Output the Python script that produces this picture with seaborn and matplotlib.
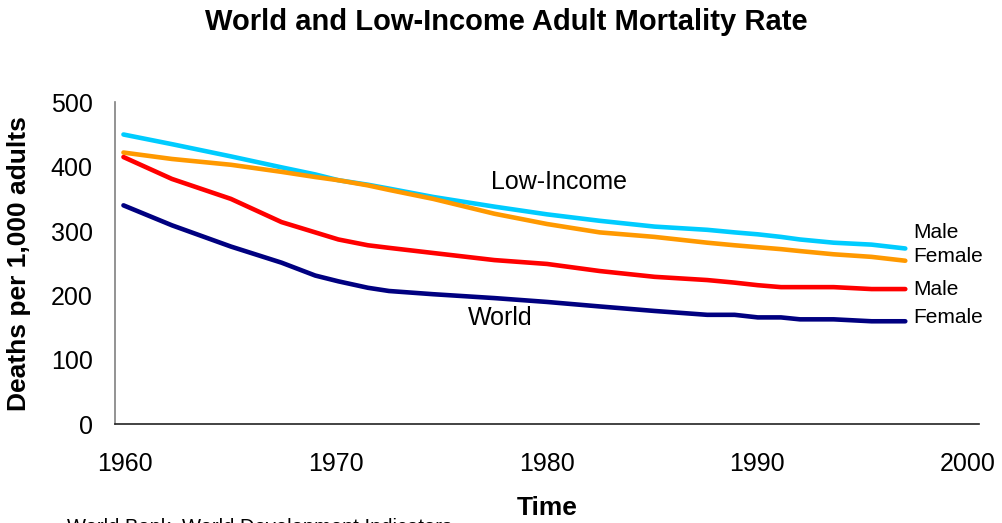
import numpy as np
import pandas as pd
import matplotlib
matplotlib.use("Agg")
import matplotlib.pyplot as plt
import matplotlib.transforms as mtransforms
import seaborn as sns

# Observation years (uneven spacing of the underlying series)
years = [1960.4, 1962.7, 1965.5, 1967.9, 1969.5, 1970.6, 1972.0, 1973.0, 1975.1,
         1978.0, 1980.5, 1983.0, 1985.6, 1988.1, 1989.4, 1990.5, 1991.6, 1992.5,
         1994.1, 1995.9, 1997.5]

# Adult mortality, deaths per 1,000 adults
low_income_male = [450, 435, 416, 399, 388, 379, 372, 366, 353, 338, 326, 316, 307,
                   302, 298, 295, 291, 287, 282, 279, 273]
low_income_female = [422, 412, 403, 392, 384, 379, 371, 364, 350, 327, 311, 298, 291,
                     282, 278, 275, 272, 269, 264, 260, 254]
world_male = [415, 381, 350, 314, 298, 287, 278, 274, 266, 255, 249, 238, 229,
              224, 220, 216, 213, 213, 213, 210, 210]
world_female = [340, 309, 276, 251, 231, 222, 212, 207, 202, 196, 190, 183, 176,
                170, 170, 166, 166, 163, 163, 160, 160]

series_names = ["Low-Income Male", "Low-Income Female", "World Male", "World Female"]
series_values = [low_income_male, low_income_female, world_male, world_female]
series_colors = ["#00CCFF", "#FF9900", "#FF0000", "#000080"]
end_labels = ["Male", "Female", "Male", "Female"]

x_ticks = [1960, 1970, 1980, 1990, 2000]
y_ticks = [0, 100, 200, 300, 400, 500]

df = pd.concat(
    [pd.DataFrame({"Year": years, "Rate": vals, "Series": name})
     for name, vals in zip(series_names, series_values)],
    ignore_index=True,
)

sns.set_style("white")
plt.rcParams["font.family"] = ["Liberation Sans", "DejaVu Sans"]
plt.rcParams["text.color"] = "black"
plt.rcParams["axes.labelcolor"] = "black"

fig = plt.figure(figsize=(10.02, 5.23), dpi=100)
ax = fig.add_axes([0.1148, 0.1887, 0.8623, 0.6157])

sns.lineplot(data=df, x="Year", y="Rate", hue="Series", hue_order=series_names,
             palette=dict(zip(series_names, series_colors)), linewidth=3.3,
             legend=False, ax=ax, sort=True)
for line in ax.get_lines():
    line.set_solid_capstyle("round")
    line.set_solid_joinstyle("round")

ax.set_xlim(1960, 2001)
ax.set_ylim(0, 500)
ax.set_xticks(x_ticks)
ax.set_yticks(y_ticks)
ax.tick_params(axis="both", direction="out", length=8, width=1, color="#555555",
               labelsize=18, labelcolor="black")
ax.tick_params(axis="y", pad=8)
ax.tick_params(axis="x", pad=12)

# x tick labels sit a little right of their ticks
shift = mtransforms.ScaledTranslation(10 / 100, 0, fig.dpi_scale_trans)
for lab in ax.get_xticklabels():
    lab.set_transform(lab.get_transform() + shift)

for side in ("top", "right"):
    ax.spines[side].set_visible(False)
ax.spines["left"].set_color("#808080")
ax.spines["left"].set_linewidth(1.2)
ax.spines["bottom"].set_color("#222222")
ax.spines["bottom"].set_linewidth(1.2)

ax.set_xlabel("Time", fontsize=19, fontweight="bold", labelpad=14)
ax.set_ylabel("Deaths per 1,000 adults", fontsize=19, fontweight="bold", labelpad=14)

fig.text(0.505, 0.958, "World and Low-Income Adult Mortality Rate", ha="center",
         va="center", fontsize=21, fontweight="bold")

# Group labels
ax.text(1977.85, 376, "Low-Income", fontsize=18, ha="left", va="center")
ax.text(1976.75, 165, "World", fontsize=18, ha="left", va="center")

# Labels at the right end of each line
end_y = [298, 261, 209, 166]
for lab, yv in zip(end_labels, end_y):
    ax.text(1997.9, yv, lab, fontsize=15, ha="left", va="center")

fig.text(67 / 1002, 1 - 518 / 523, "World Bank, World Development Indicators",
         fontsize=14.5, ha="left", va="top")

fig.savefig("out.png", dpi=100)
